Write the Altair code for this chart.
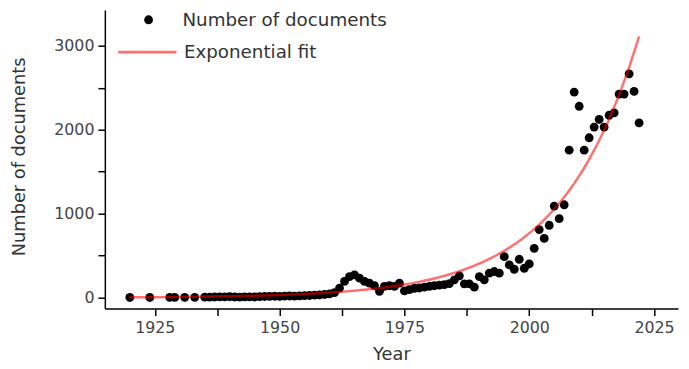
import altair as alt
import pandas as pd

years = [1920, 1924, 1928, 1929, 1931, 1933] + list(range(1935, 2023))
counts = (
    [2, 2, 3, 3, 4, 4]
    + [6, 7, 8, 10, 9, 11, 8, 7, 9, 10, 8, 12, 14, 15, 17, 16, 18, 20, 19, 22, 24, 26, 30, 33, 38, 45, 60]
    + [114, 193, 251, 272, 232, 193, 173, 142, 75, 134, 142, 134, 173]
    + [80, 95, 112, 115, 125, 134, 142, 150, 155, 168]
    + [212, 260, 165, 165, 126, 251, 212, 292, 311, 292]
    + [488, 390, 338, 457, 350, 401, 587, 811, 705, 862, 1090, 941, 1106]
    + [1756, 2448, 2279, 1756, 1904, 2031, 2122, 2031, 2172, 2200, 2424, 2424, 2665, 2456, 2081]
)
x_ticks = [1925, 1937.5, 1950, 1962.5, 1975, 1987.5, 2000, 2012.5, 2025]
y_ticks = [0, 500, 1000, 1500, 2000, 2500, 3000]

df = pd.DataFrame({"year": years, "count": counts})

FONT = "DejaVu Sans"

x_enc = alt.X(
    "year:Q",
    scale=alt.Scale(domain=[1915, 2029.8], nice=False, zero=False),
    axis=alt.Axis(
        title="Year", values=x_ticks, format="d",
        labelExpr="datum.value % 25 == 0 ? datum.label : ''",
        titleY=47, titleBaseline="middle",
    ),
)
y_enc = alt.Y(
    "count:Q",
    scale=alt.Scale(domain=[-130, 3424], nice=False, zero=False),
    axis=alt.Axis(
        title="Number of documents", values=y_ticks, format="d",
        labelExpr="datum.value % 1000 == 0 ? datum.label : ''",
        titleX=-86, titleY=148, titleAngle=-90, titleBaseline="middle", titleAlign="center",
    ),
)

points = alt.Chart(df).transform_calculate(series="'Number of documents'").mark_circle(
    size=80, opacity=1
).encode(
    x=x_enc,
    y=y_enc,
    fill=alt.Fill(
        "series:N",
        scale=alt.Scale(domain=["Number of documents"], range=["black"]),
        legend=alt.Legend(
            title=None, orient="none", legendX=35, legendY=0.5, symbolType="circle",
            symbolSize=80, labelFontSize=18.5, labelOffset=25, padding=0, labelLimit=0,
            labelFont=FONT, labelColor="#333", symbolStrokeWidth=0,
        ),
    ),
)

fit = alt.Chart(df).transform_regression(
    "year", "count", method="exp", extent=[1920, 2022]
).transform_calculate(series="'Exponential fit'").mark_line(
    strokeWidth=2.5, opacity=0.56
).encode(
    x="year:Q",
    y="count:Q",
    stroke=alt.Stroke(
        "series:N",
        scale=alt.Scale(domain=["Exponential fit"], range=["red"]),
        legend=alt.Legend(
            title=None, orient="none", legendX=12, legendY=11.5, symbolType="stroke",
            symbolSize=3481, symbolStrokeWidth=3, symbolOpacity=0.56,
            labelFontSize=18.5, labelOffset=6, padding=0, labelLimit=0,
            labelFont=FONT, labelColor="#333",
        ),
    ),
)

chart = alt.layer(points, fit).properties(
    width=580, height=302,
    autosize=alt.AutoSizeParams(type="none"),
    padding={"left": 98, "top": 0, "right": 3, "bottom": 59},
).configure_view(stroke=None).configure_axis(
    grid=False, domainColor="black", domainWidth=1.5, tickColor="black", tickWidth=1.5,
    tickSize=7, labelColor="#444", labelFont=FONT, labelFontSize=16, labelPadding=4,
    titleFont=FONT, titleFontSize=18, titleColor="#333", titleFontWeight="normal",
)

chart.save("out.html", embed_options={"renderer": "svg", "actions": False})
